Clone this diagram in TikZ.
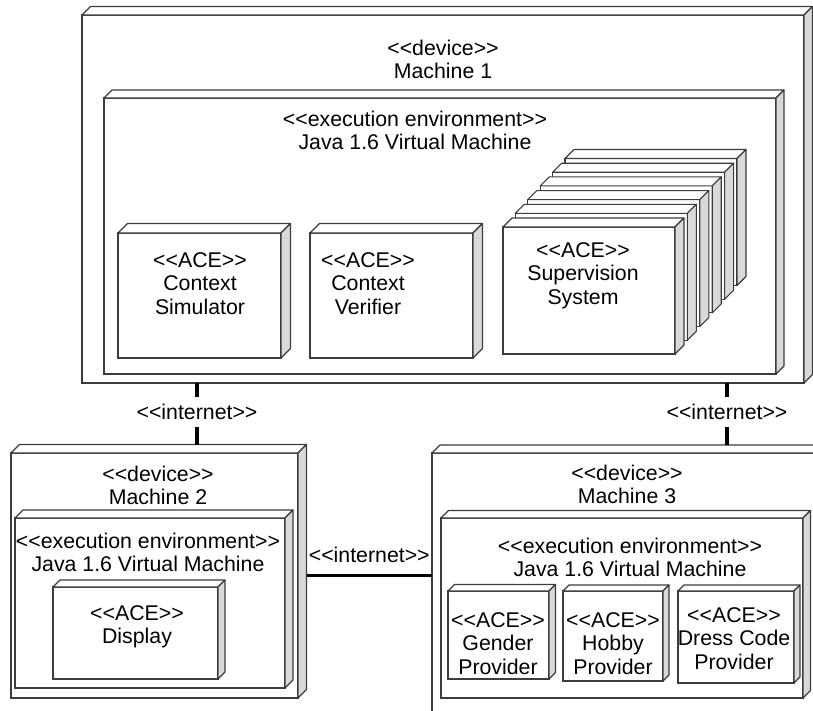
\documentclass[tikz,border=0pt]{standalone}
\usepackage{fontspec}
\setmainfont{Liberation Sans}
\usetikzlibrary{calc}

\definecolor{edgecol}{HTML}{3C3C3C}
\definecolor{sidecol}{HTML}{D9D9D9}

% stereotype brackets, kept apart so they stay two separate characters
\newcommand\stereo[1]{<\kern0pt<#1>\kern0pt>}

% 3-D UML node: name, left, top, right, bottom, depth
\newcommand\umlnode[6]{%
  \node[umlbox, minimum width={#4-#2}, minimum height={#5-#3}] (#1) at (#2,#3) {};
  \draw[topface] (#1.north west) -- ++(#6,-#6) -- ([shift={(#6,-#6)}]#1.north east)
        -- (#1.north east) -- cycle;
  \draw[sideface] (#1.north east) -- ++(#6,-#6) -- ([shift={(#6,-#6)}]#1.south east)
        -- (#1.south east) -- cycle;
}

\begin{document}
\begin{tikzpicture}[x=1pt,y=-1pt,
  umlbox/.style={draw=edgecol, fill=white, line width=1.1pt, rectangle,
                 inner sep=0pt, outer sep=0pt, anchor=north west},
  topface/.style={draw=edgecol, fill=white, line width=1.1pt, line join=round},
  sideface/.style={draw=edgecol, fill=sidecol, line width=1.1pt, line join=round},
  lbl/.style={anchor=north, align=center, inner sep=0pt, text=black,
              font=\fontsize{21.3}{23.5}\selectfont},
  link/.style={line width=3.5pt, black},
  netlbl/.style={fill=white, inner xsep=2pt, inner ysep=7pt, text=black,
                 font=\fontsize{21.3}{23.5}\selectfont},
]
\useasboundingbox (0,0) rectangle (813,710);
\clip (0,0) rectangle (813,710);

% ---------------- Machine 1 ----------------
\umlnode{m1}{82}{15}{804}{383}{8.5}
\node[lbl] (m1lbl) at (443,39.4) {\stereo{device}\\Machine 1};
\umlnode{m1jvm}{104}{98}{776}{374}{8}
\node[lbl] (m1jvmlbl) at (415,110.4) {\stereo{execution environment}\\Java 1.6 Virtual Machine};

\umlnode{csim}{118}{233}{281}{358}{9.5}
\node[lbl] (csimlbl) at (200,252.4) {\stereo{ACE}\\Context\\Simulator};
\umlnode{cver}{310}{233}{473}{358}{9.5}
\node[lbl] (cverlbl) at (368,252.4) {\stereo{ACE}\\Context\\Verifier};

% stack of supervision system instances, back to front
\foreach \k in {5,4,3,2,1,0}{
  \pgfmathsetmacro\sxa{503+12.4*\k}
  \pgfmathsetmacro\sya{227-13.7*\k}
  \pgfmathsetmacro\sxb{675+12.4*\k}
  \pgfmathsetmacro\syb{354-13.7*\k}
  \umlnode{sup\k}{\sxa}{\sya}{\sxb}{\syb}{9}
}
\node[lbl] (suplbl) at (583,242.4) {\stereo{ACE}\\Supervision\\System};

% ---------------- Machine 2 ----------------
\umlnode{m2}{11}{453}{298}{698}{8.5}
\node[lbl] (m2lbl) at (158,465.4) {\stereo{device}\\Machine 2};
\umlnode{m2jvm}{15}{518}{285}{688}{8}
\node[lbl] (m2jvmlbl) at (148,532.4) {\stereo{execution environment}\\Java 1.6 Virtual Machine};
\umlnode{disp}{53}{587}{218}{679}{7}
\node[lbl] (displbl) at (137,605.4) {\stereo{ACE}\\Display};

% ---------------- Machine 3 ----------------
\umlnode{m3}{432}{453}{840}{740}{8}
\node[lbl] (m3lbl) at (627,464.4) {\stereo{device}\\Machine 3};
\umlnode{m3jvm}{441}{518}{803}{698}{7.5}
\node[lbl] (m3jvmlbl) at (630,537.4) {\stereo{execution environment}\\Java 1.6 Virtual Machine};
\umlnode{gend}{448}{591}{549}{679}{6.5}
\node[lbl] (gendlbl) at (498,612.4) {\stereo{ACE}\\Gender\\Provider};
\umlnode{hobb}{563}{591}{663}{681}{6}
\node[lbl] (hobblbl) at (613,612.4) {\stereo{ACE}\\Hobby\\Provider};
\umlnode{dress}{678}{591}{794}{683}{6}
\node[lbl] (dresslbl) at (734,607.4) {\stereo{ACE}\\Dress Code\\Provider};

% ---------------- communication paths ----------------
\draw[link] ([xshift=115pt]m1.south west)
  -- node[netlbl, yshift=2pt] (net12) {\stereo{internet}}
  ([xshift=186pt,yshift=8.5pt]m2.north west);
\draw[link] ([xshift=645pt]m1.south west)
  -- node[netlbl, yshift=2pt] (net13) {\stereo{internet}}
  ([xshift=295pt,yshift=8pt]m3.north west);
\draw[link] ([xshift=8.5pt]m2.east)
  -- node[above=11pt, inner sep=0pt, text=black,
          font=\fontsize{21.3}{23.5}\selectfont] (net23) {\stereo{internet}}
  (m3.west |- m2.east);
\end{tikzpicture}
\end{document}
